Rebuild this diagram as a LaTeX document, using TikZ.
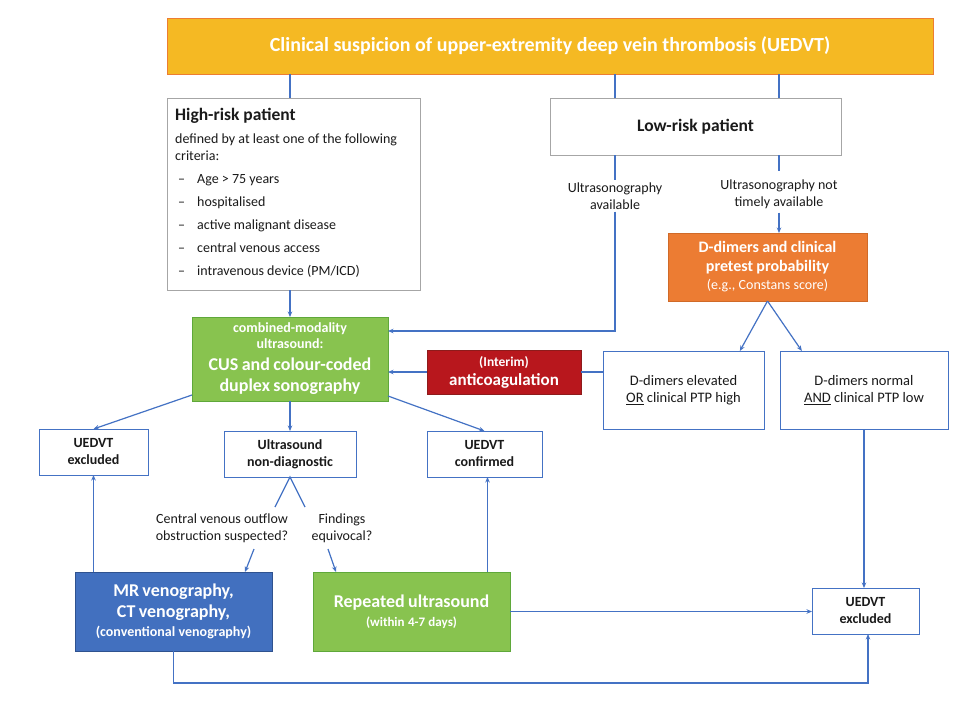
\documentclass[tikz,border=0pt]{standalone}
\usepackage{fontspec}
\setmainfont{Carlito}
\usetikzlibrary{arrows.meta,calc}
\definecolor{ln}{HTML}{4472C4}
\definecolor{topfill}{HTML}{F5B923}
\definecolor{toporange}{HTML}{ED7D31}
\definecolor{grn}{HTML}{88C34F}
\definecolor{grnd}{HTML}{5FA83A}
\definecolor{org}{HTML}{EC7C33}
\definecolor{orgd}{HTML}{D06A28}
\definecolor{dred}{HTML}{B8171D}
\definecolor{dredd}{HTML}{8E1B1B}
\definecolor{mrb}{HTML}{4270BF}
\definecolor{mrbd}{HTML}{2F528F}
\definecolor{grayb}{HTML}{A6A6A6}
\definecolor{txt}{HTML}{1A1A1A}
\tikzset{
  box/.style={draw, inner sep=0pt, outer sep=0pt, line width=0.8pt, align=center},
  wbox/.style={box, draw=ln, fill=white, text=txt},
  gbox/.style={box, draw=grayb, fill=white, text=txt},
  cbox/.style={box, text=white},
  conn/.style={draw=ln, line width=1.2pt},
  arr/.style={conn, -{Stealth[length=5.5pt,width=4.5pt]}},
  lbl/.style={inner sep=2pt, align=center, text=txt, font=\fontsize{14}{17}\selectfont},
  itm/.style={inner sep=0pt, anchor=west, text=txt, font=\fontsize{14}{16}\selectfont},
  bfs/.style={font=\bfseries\fontsize{14}{17}\selectfont},
}
\begin{document}
\begin{tikzpicture}[x=1pt,y=-1pt]
\fill[white] (0,0) rectangle (972,726);
\useasboundingbox (0,0) rectangle (972,726);

% boxes
\node[cbox, fill=topfill, draw=toporange, minimum width=766pt, minimum height=56pt,
  font=\bfseries\fontsize{20}{24}\selectfont] (top) at (550,46)
  {Clinical suspicion of upper-extremity deep vein thrombosis (UEDVT)};

\node[gbox, minimum width=253pt, minimum height=192pt] (hr) at (293.5,194) {};
\node[itm, font=\bfseries\fontsize{17.5}{20}\selectfont] (hrt) at (175,116) {High-risk patient};
\node[itm, anchor=north west, align=left, font=\fontsize{14}{16.5}\selectfont] (hrd) at (175,134)
  {defined by at least one of the following\\criteria:};
\node[itm] (i1) at (178,180) {–\hspace{12pt}Age > 75 years};
\node[itm] (i2) at (178,203) {–\hspace{12pt}hospitalised};
\node[itm] (i3) at (178,226) {–\hspace{12pt}active malignant disease};
\node[itm] (i4) at (178,248) {–\hspace{12pt}central venous access};
\node[itm] (i5) at (178,271) {–\hspace{12pt}intravenous device (PM/ICD)};

\node[gbox, minimum width=291pt, minimum height=57pt,
  font=\bfseries\fontsize{17.5}{20}\selectfont] (lr) at (695.5,126.5) {Low-risk patient};

\node[lbl] (ua) at (615,196) {Ultrasonography\\available};
\node[lbl] (nta) at (779,194) {Ultrasonography not\\timely available};

\node[cbox, fill=org, draw=orgd, minimum width=199pt, minimum height=68pt, text width=195pt] (ddp) at (767.5,267)
  {{\bfseries\fontsize{16}{19}\selectfont D-dimers and clinical\par pretest probability\par}
   {\fontsize{14}{18}\selectfont (e.g., Constans score)\par}};

\node[wbox, minimum width=161pt, minimum height=78pt, font=\fontsize{14.5}{17}\selectfont] (dde) at (683.5,390)
  {D-dimers elevated\\\underline{OR} clinical PTP high};
\node[wbox, minimum width=168pt, minimum height=78pt, font=\fontsize{14.5}{17}\selectfont] (ddn) at (864,390)
  {D-dimers normal\\\underline{AND} clinical PTP low};

\node[cbox, fill=dred, draw=dredd, minimum width=154pt, minimum height=44pt, text width=150pt] (ac) at (504,372)
  {{\bfseries\fontsize{13.5}{15}\selectfont (Interim)\par}
   {\bfseries\fontsize{17}{19}\selectfont anticoagulation\par}};

\node[cbox, fill=grn, draw=grnd, minimum width=196pt, minimum height=84pt, text width=192pt] (cus) at (290,359)
  {{\bfseries\fontsize{14}{16}\selectfont combined-modality\par ultrasound:\par}
   {\bfseries\fontsize{18}{21.5}\selectfont CUS and colour-coded\par duplex sonography\par}};

\node[wbox, bfs, minimum width=109pt, minimum height=46pt] (ex1) at (93.5,452) {UEDVT\\excluded};
\node[wbox, bfs, minimum width=132pt, minimum height=46pt] (nd) at (290,454) {Ultrasound\\non-diagnostic};
\node[wbox, bfs, minimum width=115pt, minimum height=46pt] (cf) at (484.5,454) {UEDVT\\confirmed};

\node[lbl] (lab1) at (222,528) {Central venous outflow\\obstruction suspected?};
\node[lbl] (lab2) at (342,528) {Findings\\equivocal?};

\node[cbox, fill=mrb, draw=mrbd, minimum width=197pt, minimum height=79pt, text width=193pt] (mr) at (173.5,611.5)
  {{\bfseries\fontsize{18}{21}\selectfont MR venography,\par CT venography,\par}
   {\bfseries\fontsize{14}{19}\selectfont (conventional venography)\par}};
\node[cbox, fill=grn, draw=grnd, minimum width=197pt, minimum height=79pt, text width=193pt] (rep) at (411.5,611.5)
  {{\bfseries\fontsize{18}{21}\selectfont Repeated ultrasound\par}
   {\bfseries\fontsize{13}{19}\selectfont (within 4-7 days)\par}};

\node[wbox, bfs, minimum width=107pt, minimum height=46pt] (ex2) at (865.5,611) {UEDVT\\excluded};

% helper coordinates
\coordinate (k1) at (615,331);
\coordinate (v1) at (275,507);
\coordinate (v2) at (305,507);
\coordinate (a1) at (254,549);
\coordinate (a2) at (328,549);
\coordinate (bl) at (868,683);
\coordinate (htop) at (290,74);

% connectors
\draw[conn] (htop) -- (htop |- hr.north);
\draw[conn] (top.south -| ua) -- (lr.north -| ua);
\draw[conn] (top.south -| nta) -- (lr.north -| nta);
\draw[conn] (lr.south -| ua) -- (ua.north);
\draw[arr] (ua.south) -- (k1) -- (k1 -| cus.east);
\draw[conn] (lr.south -| nta) -- ([yshift=6pt]nta.north);
\draw[arr] ([yshift=-2pt]nta.south) -- (nta.south |- ddp.north);
\draw[arr] (ddp.south) -- ($(dde.north west)!0.85!(dde.north east)$);
\draw[arr] (ddp.south) -- ($(ddn.north west)!0.13!(ddn.north east)$);
\draw[conn] (dde.west |- ac.east) -- (ac.east);
\draw[arr] (ac.west) -- (ac.west -| cus.east);
\draw[arr] (hr.south -| cus.north) -- (cus.north);
\draw[arr] ([yshift=6pt]cus.south west) -- (ex1.north);
\draw[arr] (cus.south) -- (nd.north);
\draw[arr] ([yshift=5pt]cus.south east) -- (cf.north);
\draw[conn] (v1) -- (nd.south) -- (v2);
\draw[arr] (a1) -- ([xshift=-27pt]mr.north east);
\draw[arr] (a2) -- ([xshift=23pt]rep.north west);
\draw[arr] (ex1.south |- mr.north) -- (ex1.south);
\draw[arr] ([xshift=3pt]cf.south |- rep.north) -- ([xshift=3pt]cf.south);
\draw[arr] (rep.east) -- (rep.east -| ex2.west);
\draw[arr] (ddn.south) -- (ddn.south |- ex2.north);
\draw[arr] (mr.south) -- (mr.south |- bl) -- (bl) -- (bl |- ex2.south);
\end{tikzpicture}
\end{document}
